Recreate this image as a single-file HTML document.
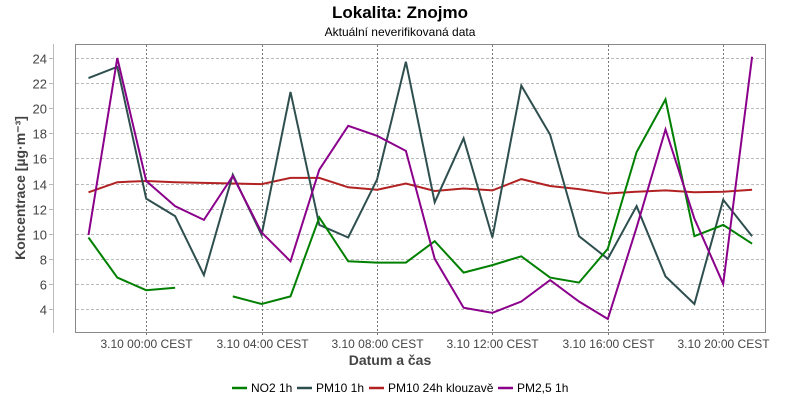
<!DOCTYPE html>
<html><head><meta charset="utf-8"><style>
body{margin:0;background:#fff;width:800px;height:400px;overflow:hidden;font-family:"Liberation Sans",sans-serif}
</style></head><body>
<svg id="s" width="800" height="400" xmlns="http://www.w3.org/2000/svg" font-family="Liberation Sans, sans-serif">
<text x="400" y="18" text-anchor="middle" font-size="17" font-weight="bold" fill="#000">Lokalita: Znojmo</text>
<text x="400" y="36" text-anchor="middle" font-size="12" fill="#000">Aktuální neverifikovaná data</text>
<line x1="53.5" y1="44" x2="53.5" y2="333" stroke="#bbb"/>
<g id="grid"></g>
<rect x="75.5" y="44.5" width="690" height="288" fill="none" stroke="#888"/>
<g id="series" fill="none" stroke-width="2" stroke-linejoin="miter"></g>
<text x="390" y="365" text-anchor="middle" font-size="14" font-weight="bold" fill="#444">Datum a čas</text>
<text transform="translate(25,188) rotate(-90)" text-anchor="middle" font-size="14" font-weight="bold" fill="#444">Koncentrace [µg·m⁻³]</text>
<g font-size="12" fill="#000">
<line x1="232" y1="388" x2="247" y2="388" stroke="#008000" stroke-width="2.5"/><text x="251" y="392">NO2 1h</text>
<line x1="297" y1="388" x2="312" y2="388" stroke="#2f4f4f" stroke-width="2.5"/><text x="316" y="392">PM10 1h</text>
<line x1="369" y1="388" x2="384" y2="388" stroke="#b22222" stroke-width="2.5"/><text x="388" y="392">PM10 24h klouzavě</text>
<line x1="498" y1="388" x2="513" y2="388" stroke="#8b008b" stroke-width="2.5"/><text x="517" y="392">PM2,5 1h</text>
</g>
</svg>
<script>
const NS="http://www.w3.org/2000/svg",s=document.getElementById('s');
const g=document.getElementById('grid'),se=document.getElementById('series');
const Y=v=>309-(v-4)*12.55, X=i=>88.5+i*28.85;
function el(p,t,a){const e=document.createElementNS(NS,t);for(const k in a)e.setAttribute(k,a[k]);if(a.text){e.textContent=a.text;e.removeAttribute('text')}p.appendChild(e);return e}
for(let v=4;v<=24;v+=2){const y=Math.round(Y(v))+.5;
el(g,'line',{x1:76,x2:765,y1:y,y2:y,stroke:'#bbb','stroke-dasharray':'3,2'});
el(g,'line',{x1:49,x2:53,y1:y,y2:y,stroke:'#bbb'});
el(g,'text',{x:47,y:y+5,'text-anchor':'end','font-size':'13',fill:'#444',text:String(v)});}
const lab=['00:00','04:00','08:00','12:00','16:00','20:00'];
lab.forEach((l,k)=>{const x=Math.round(X(2+4*k))+.5;
el(g,'line',{x1:x,x2:x,y1:45,y2:336,stroke:'#777','stroke-dasharray':'2,2'});
el(g,'text',{x:x,y:348,'text-anchor':'middle','font-size':'12',fill:'#444',text:'3.10 '+l+' CEST'});});
const D={
'#b22222':[13.3,14.1,14.2,14.1,14.05,14.0,13.95,14.45,14.45,13.7,13.5,14.0,13.4,13.6,13.45,14.35,13.8,13.55,13.2,13.35,13.45,13.3,13.35,13.5],
'#2f4f4f':[22.4,23.3,12.8,11.4,6.7,14.7,9.9,21.3,10.7,9.7,14.3,23.7,12.5,17.6,9.7,21.8,17.9,9.8,8.0,12.2,6.6,4.4,12.7,9.8],
'#008000':[9.7,6.5,5.5,5.7,null,5.0,4.4,5.0,11.3,7.8,7.7,7.7,9.4,6.9,7.5,8.2,6.5,6.1,8.8,16.5,20.7,9.8,10.7,9.2],
'#8b008b':[9.9,24.0,14.2,12.2,11.1,14.6,10.1,7.8,15.1,18.6,17.8,16.6,8.0,4.1,3.7,4.6,6.3,4.6,3.2,10.5,18.3,11.2,6.0,24.1]};
for(const c in D){let d='',pen=false;D[c].forEach((v,i)=>{if(v==null){pen=false;return}d+=(pen?'L':'M')+X(i).toFixed(1)+','+Y(v).toFixed(1);pen=true});
el(se,'path',{d:d,stroke:c});}
</script>
</body></html>
